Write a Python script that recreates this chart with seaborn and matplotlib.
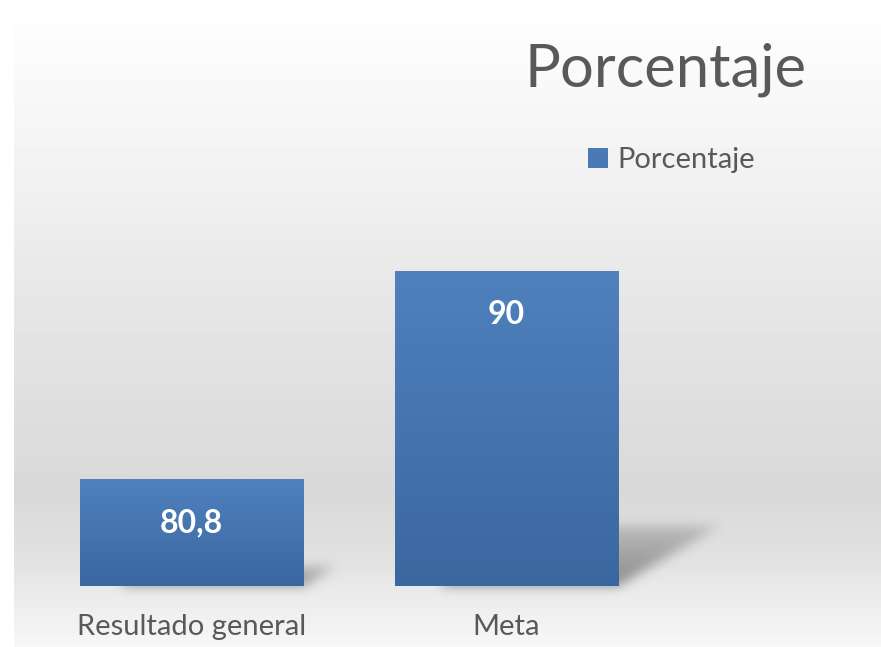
import matplotlib
matplotlib.use("Agg")
import matplotlib.pyplot as plt
import seaborn as sns
import pandas as pd
import numpy as np
from matplotlib.patches import Patch
from matplotlib.path import Path
from matplotlib.colors import LinearSegmentedColormap

# datos
categorias = ["Resultado general", "Meta"]
porcentaje = [80.8, 90]
serie = "Porcentaje"

df = pd.DataFrame({"categoria": categorias, "valor": porcentaje})

sns.set_style("white")
plt.rcParams["font.family"] = ["Lato", "DejaVu Sans"]

W, H = 881, 647
fig = plt.figure(figsize=(W / 100, H / 100), dpi=100)

# fondo degradado estilo Excel
bg = fig.add_axes([14 / W, 0, 1 - 14 / W, 1 - 14 / H], zorder=-5)
ys = np.array([0, 140, 250, 400, 480, 540, 600, 633])
gs = np.array([0.995, 0.955, 0.915, 0.87, 0.85, 0.88, 0.94, 0.97])
rows = np.interp(np.arange(633), ys, gs)
bg.imshow(np.repeat(rows[:, None], 2, axis=1), cmap="gray", vmin=0, vmax=1,
          aspect="auto", extent=(0, 1, 0, 1))
bg.axis("off")

# capa para sombras (coordenadas en pixeles)
sh = fig.add_axes([0, 0, 1, 1], zorder=-1)
sh.patch.set_alpha(0)
sh.axis("off")

ax = fig.add_axes([34 / W, 1 - 586 / H, 630 / W, 363 / H])
ax.patch.set_alpha(0)

sns.barplot(data=df, x="categoria", y="valor", color="#4a7ab5", width=0.708,
            saturation=1, ax=ax, zorder=3, edgecolor="none")

ymin, ymax = 76.1, 92.1
ax.set_ylim(ymin, ymax)
ax.set_xlim(-0.5, 1.5)


def blur(a, r):
    for _ in range(3):
        k = 2 * r + 1
        c = np.cumsum(np.pad(a, ((0, 0), (r + 1, r)), mode="edge"), axis=1)
        a = (c[:, k:] - c[:, :-k]) / k
        c = np.cumsum(np.pad(a, ((r + 1, r), (0, 0)), mode="edge"), axis=0)
        a = (c[k:, :] - c[:-k, :]) / k
    return a


gx, gy = np.meshgrid(np.arange(W) + 0.5, np.arange(H) + 0.5)
pts = np.column_stack([gx.ravel(), gy.ravel()])
shadow = np.zeros((H, W))

cmap_bar = LinearSegmentedColormap.from_list("barra", ["#3b679f", "#4f81bd"])
for p in ax.patches:
    x0, w, h = p.get_x(), p.get_width(), p.get_height()
    x1 = x0 + w
    top = p.get_y() + h
    (px0, pyb), (px1, pyt) = ax.transData.transform([(x0, ymin), (x1, top)])
    hp = pyt - pyb
    up, dx = 0.19 * hp, 0.32 * hp
    poly = Path([(px0 + 0.2 * (px1 - px0), pyb), (px1, pyb),
                 (px1 + dx, pyb + up), (px0 + dx, pyb + up)])
    m = poly.contains_points(pts).reshape(H, W).astype(float)
    fade = np.clip(1 - 0.6 * (gy - pyb) / max(up, 1), 0.25, 1)
    shadow = np.maximum(shadow, m * fade)
    # degradado de la barra
    grad = np.linspace(0, 1, 100)[:, None]
    im = ax.imshow(grad, cmap=cmap_bar, origin="lower", aspect="auto",
                   extent=(x0, x1, ymin, top), zorder=4)
    im.set_clip_path(p)

shadow = blur(shadow, 5)
rgba = np.zeros((H, W, 4))
rgba[..., :3] = 0.3
rgba[..., 3] = shadow * 0.6
sh.imshow(rgba, origin="lower", extent=(0, W, 0, H), aspect="auto")
sh.set_xlim(0, W)
sh.set_ylim(0, H)

ax.set_xlim(-0.5, 1.5)
ax.set_ylim(ymin, ymax)

etiquetas = [f"{v:g}".replace(".", ",") for v in porcentaje]
ax.bar_label(ax.containers[0], labels=etiquetas, padding=-42, color="white",
             fontsize=23, fontweight="bold", zorder=6)

ax.set_xlabel("")
ax.set_ylabel("")
ax.set_yticks([])
ax.tick_params(axis="x", length=0, pad=20, labelsize=21, labelcolor="#595959")
sns.despine(ax=ax, left=True, bottom=True)

fig.text(665 / W, 1 - 70 / H, "Porcentaje", ha="center", va="center",
         fontsize=43, color="#595959")

fig.legend(handles=[Patch(facecolor="#4a7ab5", edgecolor="none", label=serie)],
           loc="center left", bbox_to_anchor=(588 / W, 1 - 160 / H),
           frameon=False, fontsize=21, handlelength=0.7, handleheight=0.7,
           handletextpad=0.3, borderpad=0, borderaxespad=0,
           labelcolor="#595959")

fig.savefig("out.png", dpi=100)
